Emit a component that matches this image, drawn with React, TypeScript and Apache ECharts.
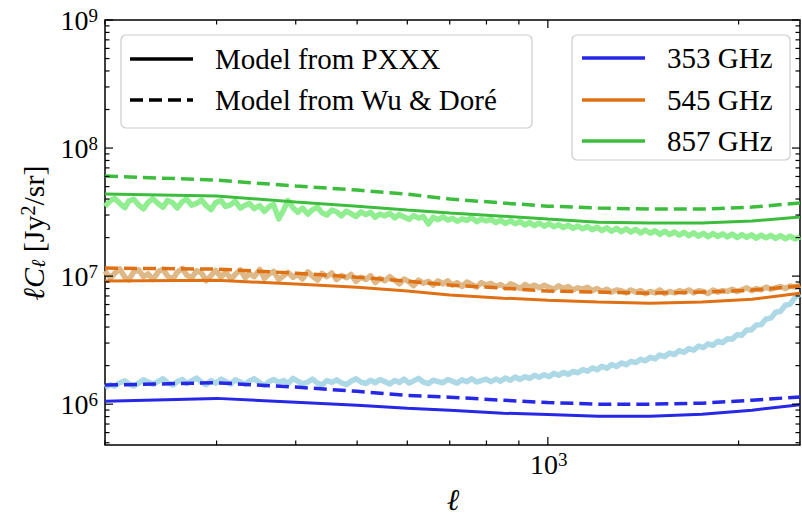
import { useEffect, useRef } from 'react';
import * as echarts from 'echarts';

// Multipole grid of the measured spectra
const ell = [
  200, 204, 207, 211, 215, 218, 222, 226, 230, 234,
  238, 243, 247, 251, 256, 260, 265, 269, 274, 279,
  284, 289, 294, 299, 305, 310, 316, 321, 327, 333,
  338, 344, 351, 357, 363, 369, 376, 383, 389, 396,
  403, 410, 418, 425, 433, 440, 448, 456, 464, 472,
  481, 489, 498, 507, 516, 525, 534, 543, 553, 563,
  573, 583, 593, 604, 614, 625, 636, 648, 659, 671,
  683, 695, 707, 719, 732, 745, 758, 772, 785, 799,
  813, 828, 842, 857, 873, 888, 904, 920, 936, 953,
  969, 987, 1004, 1022, 1040, 1058, 1077, 1096, 1115, 1135,
  1155, 1175, 1196, 1217, 1239, 1261, 1283, 1306, 1329, 1352,
  1376, 1401, 1425, 1451, 1476, 1502, 1529, 1556, 1584, 1612,
  1640, 1669, 1699, 1729, 1759, 1790, 1822, 1854, 1887, 1920,
  1954, 1989, 2024, 2060, 2096, 2133, 2171, 2209, 2249, 2288,
  2329, 2370, 2412, 2455, 2500,
];

// Measured ℓC_ℓ [Jy²/sr]
const obs353 = [
  1.35e6, 1.42e6, 1.38e6, 1.47e6, 1.52e6, 1.44e6, 1.39e6, 1.46e6, 1.55e6, 1.49e6,
  1.43e6, 1.51e6, 1.58e6, 1.47e6, 1.41e6, 1.50e6, 1.56e6, 1.45e6, 1.52e6, 1.60e6,
  1.48e6, 1.42e6, 1.53e6, 1.46e6, 1.57e6, 1.50e6, 1.44e6, 1.55e6, 1.49e6, 1.43e6,
  1.52e6, 1.58e6, 1.47e6, 1.40e6, 1.50e6, 1.56e6, 1.48e6, 1.53e6, 1.45e6, 1.59e6,
  1.51e6, 1.44e6, 1.49e6, 1.57e6, 1.46e6, 1.41e6, 1.53e6, 1.48e6, 1.55e6, 1.47e6,
  1.42e6, 1.51e6, 1.58e6, 1.49e6, 1.45e6, 1.54e6, 1.47e6, 1.56e6, 1.50e6, 1.44e6,
  1.53e6, 1.48e6, 1.57e6, 1.46e6, 1.52e6, 1.59e6, 1.49e6, 1.45e6, 1.54e6, 1.50e6,
  1.47e6, 1.56e6, 1.51e6, 1.46e6, 1.55e6, 1.50e6, 1.58e6, 1.49e6, 1.53e6, 1.57e6,
  1.50e6, 1.57e6, 1.51e6, 1.60e6, 1.54e6, 1.63e6, 1.56e6, 1.64e6, 1.59e6, 1.68e6,
  1.62e6, 1.70e6, 1.64e6, 1.74e6, 1.68e6, 1.77e6, 1.71e6, 1.80e6, 1.76e6, 1.86e6,
  1.81e6, 1.92e6, 1.86e6, 1.98e6, 1.91e6, 2.04e6, 1.97e6, 2.10e6, 2.03e6, 2.16e6,
  2.11e6, 2.24e6, 2.18e6, 2.32e6, 2.26e6, 2.42e6, 2.35e6, 2.51e6, 2.44e6, 2.62e6,
  2.54e6, 2.72e6, 2.64e6, 2.84e6, 2.76e6, 2.96e6, 2.88e6, 3.10e6, 3.02e6, 3.24e6,
  3.22e6, 3.48e6, 3.46e6, 3.80e6, 3.80e6, 4.15e6, 4.18e6, 4.62e6, 4.70e6, 5.22e6,
  5.32e6, 5.92e6, 6.05e6, 6.80e6, 7.25e6,
];
const obs545 = [
  1.10e7, 0.96e7, 1.05e7, 1.14e7, 0.98e7, 0.93e7, 1.08e7, 1.12e7, 0.99e7, 1.04e7,
  0.94e7, 1.09e7, 1.13e7, 1.00e7, 0.95e7, 1.07e7, 1.15e7, 1.02e7, 0.97e7, 1.10e7,
  1.06e7, 0.92e7, 1.01e7, 1.11e7, 0.98e7, 1.08e7, 0.95e7, 1.03e7, 1.12e7, 0.97e7,
  1.05e7, 0.99e7, 1.13e7, 0.96e7, 1.04e7, 1.09e7, 0.94e7, 1.01e7, 1.07e7, 0.98e7,
  1.03e7, 0.95e7, 1.08e7, 1.00e7, 0.93e7, 1.05e7, 0.99e7, 1.06e7, 0.94e7, 1.01e7,
  0.97e7, 1.03e7, 0.91e7, 0.98e7, 0.94e7, 1.01e7, 0.89e7, 0.96e7, 0.92e7, 0.99e7,
  0.93e7, 0.87e7, 0.95e7, 0.90e7, 0.84e7, 0.93e7, 0.88e7, 0.91e7, 0.85e7, 0.92e7,
  0.87e7, 0.92e7, 0.85e7, 0.89e7, 0.83e7, 0.90e7, 0.86e7, 0.82e7, 0.89e7, 0.85e7,
  0.88e7, 0.83e7, 0.86e7, 0.81e7, 0.87e7, 0.84e7, 0.80e7, 0.86e7, 0.82e7, 0.85e7,
  0.81e7, 0.85e7, 0.82e7, 0.79e7, 0.84e7, 0.80e7, 0.83e7, 0.78e7, 0.81e7, 0.79e7,
  0.82e7, 0.77e7, 0.80e7, 0.76e7, 0.79e7, 0.75e7, 0.78e7, 0.77e7, 0.74e7, 0.78e7,
  0.75e7, 0.77e7, 0.73e7, 0.76e7, 0.74e7, 0.78e7, 0.73e7, 0.76e7, 0.74e7, 0.77e7,
  0.75e7, 0.78e7, 0.74e7, 0.77e7, 0.76e7, 0.73e7, 0.78e7, 0.75e7, 0.77e7, 0.76e7,
  0.79e7, 0.76e7, 0.78e7, 0.81e7, 0.77e7, 0.80e7, 0.78e7, 0.82e7, 0.79e7, 0.81e7,
  0.83e7, 0.80e7, 0.84e7, 0.82e7, 0.85e7,
];
const obs857 = [
  3.50e7, 3.88e7, 4.05e7, 3.70e7, 3.42e7, 3.85e7, 3.98e7, 3.60e7, 3.35e7, 3.78e7,
  4.02e7, 3.66e7, 3.45e7, 3.90e7, 3.72e7, 3.40e7, 3.82e7, 4.00e7, 3.58e7, 3.70e7,
  3.92e7, 3.55e7, 3.30e7, 3.75e7, 3.88e7, 3.50e7, 3.62e7, 3.85e7, 3.40e7, 3.58e7,
  3.70e7, 3.36e7, 3.55e7, 3.20e7, 3.48e7, 3.62e7, 2.80e7, 3.30e7, 3.90e7, 3.42e7,
  3.15e7, 3.40e7, 3.05e7, 3.30e7, 3.45e7, 3.12e7, 3.00e7, 3.28e7, 3.18e7, 2.95e7,
  3.22e7, 3.08e7, 2.92e7, 3.18e7, 3.02e7, 3.15e7, 2.88e7, 3.05e7, 2.96e7, 3.10e7,
  2.85e7, 3.02e7, 2.90e7, 2.78e7, 2.97e7, 2.84e7, 2.92e7, 2.55e7, 2.88e7, 2.76e7,
  2.90e7, 2.74e7, 2.83e7, 2.68e7, 2.80e7, 2.72e7, 2.86e7, 2.66e7, 2.78e7, 2.70e7,
  2.77e7, 2.62e7, 2.74e7, 2.58e7, 2.71e7, 2.56e7, 2.67e7, 2.51e7, 2.62e7, 2.48e7,
  2.60e7, 2.45e7, 2.57e7, 2.43e7, 2.52e7, 2.39e7, 2.50e7, 2.36e7, 2.46e7, 2.34e7,
  2.44e7, 2.30e7, 2.41e7, 2.27e7, 2.38e7, 2.24e7, 2.36e7, 2.22e7, 2.34e7, 2.21e7,
  2.32e7, 2.17e7, 2.29e7, 2.16e7, 2.26e7, 2.12e7, 2.24e7, 2.11e7, 2.21e7, 2.09e7,
  2.20e7, 2.07e7, 2.18e7, 2.05e7, 2.16e7, 2.03e7, 2.15e7, 2.04e7, 2.14e7, 2.02e7,
  2.13e7, 2.00e7, 2.11e7, 2.01e7, 2.10e7, 1.98e7, 2.09e7, 1.99e7, 2.08e7, 1.97e7,
  2.07e7, 1.96e7, 2.05e7, 1.95e7, 2.03e7,
];

// Model predictions, sampled on a coarser grid
const modelEll = [200, 300, 400, 500, 600, 700, 850, 1000, 1200, 1450, 1750, 2100, 2500];
const pxxx353 = [1.055e6, 1.11e6, 1.037e6, 9.82e5, 9.3e5, 8.98e5, 8.5e5, 8.3e5, 8.05e5, 8.05e5, 8.36e5, 8.98e5, 9.9e5];
const wuDore353 = [1.41e6, 1.47e6, 1.36e6, 1.26e6, 1.17e6, 1.135e6, 1.074e6, 1.03e6, 1.0e6, 1.0e6, 1.018e6, 1.074e6, 1.14e6];
const pxxx545 = [9.14e6, 9.3e6, 8.66e6, 8.2e6, 7.64e6, 7.11e6, 6.73e6, 6.49e6, 6.27e6, 6.15e6, 6.27e6, 6.61e6, 7.36e6];
const wuDore545 = [1.155e7, 1.135e7, 1.055e7, 9.82e6, 9.14e6, 8.51e6, 8.05e6, 7.64e6, 7.5e6, 7.36e6, 7.5e6, 7.78e6, 8.36e6];
const pxxx857 = [4.37e7, 4.22e7, 3.79e7, 3.52e7, 3.28e7, 3.11e7, 2.94e7, 2.79e7, 2.64e7, 2.6e7, 2.6e7, 2.69e7, 2.89e7];
const wuDore857 = [6.04e7, 5.62e7, 5.05e7, 4.7e7, 4.37e7, 4.0e7, 3.72e7, 3.52e7, 3.4e7, 3.34e7, 3.34e7, 3.46e7, 3.72e7];

const bands = ['353 GHz', '545 GHz', '857 GHz'];
const modelLabels = ['Model from PXXX', 'Model from Wu & Doré'];

// Tick positions
const xMajorTicks = [1000];
const xMinorTicks = [200, 300, 400, 500, 600, 700, 800, 900, 2000];
const yMajorTicks = [1e6, 1e7, 1e8, 1e9];
const yMinorTicks = [
  5e5, 6e5, 7e5, 8e5, 9e5,
  2e6, 3e6, 4e6, 5e6, 6e6, 7e6, 8e6, 9e6,
  2e7, 3e7, 4e7, 5e7, 6e7, 7e7, 8e7, 9e7,
  2e8, 3e8, 4e8, 5e8, 6e8, 7e8, 8e8, 9e8,
];

const FONT = '"Liberation Serif", "DejaVu Serif", serif';
const BLUE = '#2727e6';
const ORANGE = '#e07014';
const GREEN = '#3dbd3d';
const LIGHT_BLUE = '#add8e6';
const LIGHT_ORANGE = '#deb887';
const LIGHT_GREEN = '#90ee90';

const pairs = (xs: number[], ys: number[]) => xs.map((x, i) => [x, ys[i]]);

const powRich = {
  b: { fontFamily: FONT, fontSize: 28, lineHeight: 28, color: '#000', verticalAlign: 'middle' },
  s: { fontFamily: FONT, fontSize: 19, lineHeight: 12, color: '#000', verticalAlign: 'top' },
};

export default function App() {
  const ref = useRef<HTMLDivElement>(null);

  useEffect(() => {
    if (!ref.current) return;
    const chart = echarts.init(ref.current, null, { renderer: 'svg' });

    const dataLine = (name: string, ys: number[], color: string) => ({
      name,
      type: 'line',
      data: pairs(ell, ys),
      symbol: 'none',
      z: 2,
      lineStyle: { color, width: 5.5, join: 'round' },
      silent: true,
    });
    const modelLine = (name: string, ys: number[], color: string, dashed: boolean) => ({
      name,
      type: 'line',
      data: pairs(modelEll, ys),
      symbol: 'none',
      z: 3,
      lineStyle: dashed ? { color, width: 3.5, type: [13, 6] } : { color, width: 3 },
      silent: true,
    });

    const tickData = [
      ...xMajorTicks.map((v) => [v, 1e7, 0, 1]),
      ...xMinorTicks.map((v) => [v, 1e7, 0, 0]),
      ...yMajorTicks.map((v) => [1000, v, 1, 1]),
      ...yMinorTicks.map((v) => [1000, v, 1, 0]),
    ];

    const tickSeries = {
      type: 'custom',
      silent: true,
      z: 10,
      clip: false,
      encode: { x: 0, y: 1 },
      data: tickData,
      renderItem: (params: any, api: any) => {
        const cs = params.coordSys;
        const kind = api.value(2);
        const major = api.value(3) === 1;
        const p = api.coord([api.value(0), api.value(1)]);
        const len = major ? 8 : 4.5;
        const ls = { stroke: '#000', lineWidth: 1.2 };
        const children: any[] = [];
        if (kind === 0) {
          const x = p[0];
          const b = cs.y + cs.height;
          children.push({ type: 'line', shape: { x1: x, y1: b, x2: x, y2: b - len }, style: ls });
          children.push({ type: 'line', shape: { x1: x, y1: cs.y, x2: x, y2: cs.y + len }, style: ls });
          if (major) {
            const e = Math.round(Math.log10(api.value(0)));
            children.push({
              type: 'text',
              x: x + 1,
              y: b + 5,
              style: { text: `{b|10}{s|${e}}`, rich: powRich, align: 'center', verticalAlign: 'top' },
            });
          }
        } else {
          const y = p[1];
          const r = cs.x + cs.width;
          children.push({ type: 'line', shape: { x1: cs.x, y1: y, x2: cs.x + len, y2: y }, style: ls });
          children.push({ type: 'line', shape: { x1: r, y1: y, x2: r - len, y2: y }, style: ls });
          if (major) {
            const e = Math.round(Math.log10(api.value(1)));
            children.push({
              type: 'text',
              x: cs.x - 7,
              y,
              style: { text: `{b|10}{s|${e}}`, rich: powRich, align: 'right', verticalAlign: 'middle' },
            });
          }
        }
        return { type: 'group', children };
      },
    };

    const legendText = (text: string, x: number, y: number) => ({
      type: 'text',
      x,
      y,
      z: 101,
      style: { text, fontFamily: FONT, fontSize: 29, fill: '#000', verticalAlign: 'middle' },
    });
    const legendLine = (x1: number, x2: number, y: number, color: string, dashed: boolean) => ({
      type: 'line',
      z: 101,
      shape: { x1, y1: y, x2, y2: y },
      style: { stroke: color, lineWidth: 3.5, lineDash: dashed ? [13, 6] : null },
    });

    chart.setOption({
      animation: false,
      backgroundColor: '#fff',
      grid: {
        left: 105,
        top: 20,
        width: 695,
        height: 425,
        show: true,
        borderColor: '#000',
        borderWidth: 1.5,
        backgroundColor: 'transparent',
        outerBoundsMode: 'none',
      },
      xAxis: {
        type: 'log',
        logBase: 10,
        min: 200,
        max: 2500,
        axisLine: { show: false },
        axisTick: { show: false },
        axisLabel: { show: false },
        splitLine: { show: false },
      },
      yAxis: {
        type: 'log',
        logBase: 10,
        min: 4.8e5,
        max: 1e9,
        axisLine: { show: false },
        axisTick: { show: false },
        axisLabel: { show: false },
        splitLine: { show: false },
      },
      series: [
        dataLine(bands[0] + ' data', obs353, LIGHT_BLUE),
        dataLine(bands[1] + ' data', obs545, LIGHT_ORANGE),
        dataLine(bands[2] + ' data', obs857, LIGHT_GREEN),
        modelLine(bands[0] + ' PXXX', pxxx353, BLUE, false),
        modelLine(bands[0] + ' Wu & Doré', wuDore353, BLUE, true),
        modelLine(bands[1] + ' PXXX', pxxx545, ORANGE, false),
        modelLine(bands[1] + ' Wu & Doré', wuDore545, ORANGE, true),
        modelLine(bands[2] + ' PXXX', pxxx857, GREEN, false),
        modelLine(bands[2] + ' Wu & Doré', wuDore857, GREEN, true),
        tickSeries,
      ],
      graphic: [
        // axis titles
        {
          type: 'text',
          x: 453,
          y: 499,
          style: {
            text: 'ℓ',
            fontFamily: FONT,
            fontSize: 30,
            fontStyle: 'italic',
            fill: '#000',
            align: 'center',
            verticalAlign: 'middle',
          },
        },
        {
          type: 'text',
          x: 33,
          y: 233,
          rotation: Math.PI / 2,
          style: {
            text: '{i|ℓC}{sub|ℓ}{n| [Jy}{sup|2}{n|/sr]}',
            align: 'center',
            verticalAlign: 'middle',
            rich: {
              i: { fontFamily: FONT, fontSize: 30, fontStyle: 'italic', lineHeight: 30, verticalAlign: 'middle', color: '#000' },
              sub: { fontFamily: FONT, fontSize: 20, fontStyle: 'italic', lineHeight: 20, verticalAlign: 'bottom', color: '#000' },
              n: { fontFamily: FONT, fontSize: 30, lineHeight: 30, verticalAlign: 'middle', color: '#000' },
              sup: { fontFamily: FONT, fontSize: 20, lineHeight: 14, verticalAlign: 'top', color: '#000' },
            },
          },
        },
        // model legend
        {
          type: 'rect',
          z: 100,
          shape: { x: 121, y: 35, width: 411, height: 93, r: 5 },
          style: { fill: 'rgba(255,255,255,0.85)', stroke: '#cccccc', lineWidth: 1.2 },
        },
        legendLine(130, 193, 59, '#000', false),
        legendLine(130, 193, 100, '#000', true),
        legendText(modelLabels[0], 215, 59),
        legendText(modelLabels[1], 215, 100),
        // frequency legend
        {
          type: 'rect',
          z: 100,
          shape: { x: 572, y: 35, width: 218, height: 125, r: 5 },
          style: { fill: 'rgba(255,255,255,0.85)', stroke: '#cccccc', lineWidth: 1.2 },
        },
        legendLine(582, 645, 58, BLUE, false),
        legendLine(582, 645, 100, ORANGE, false),
        legendLine(582, 645, 141, GREEN, false),
        legendText(bands[0], 667, 58),
        legendText(bands[1], 667, 100),
        legendText(bands[2], 667, 141),
      ],
    });

    return () => chart.dispose();
  }, []);

  return (
    <div
      ref={ref}
      style={{ position: 'fixed', left: 0, top: 0, width: 802, height: 515, background: '#fff' }}
    />
  );
}
